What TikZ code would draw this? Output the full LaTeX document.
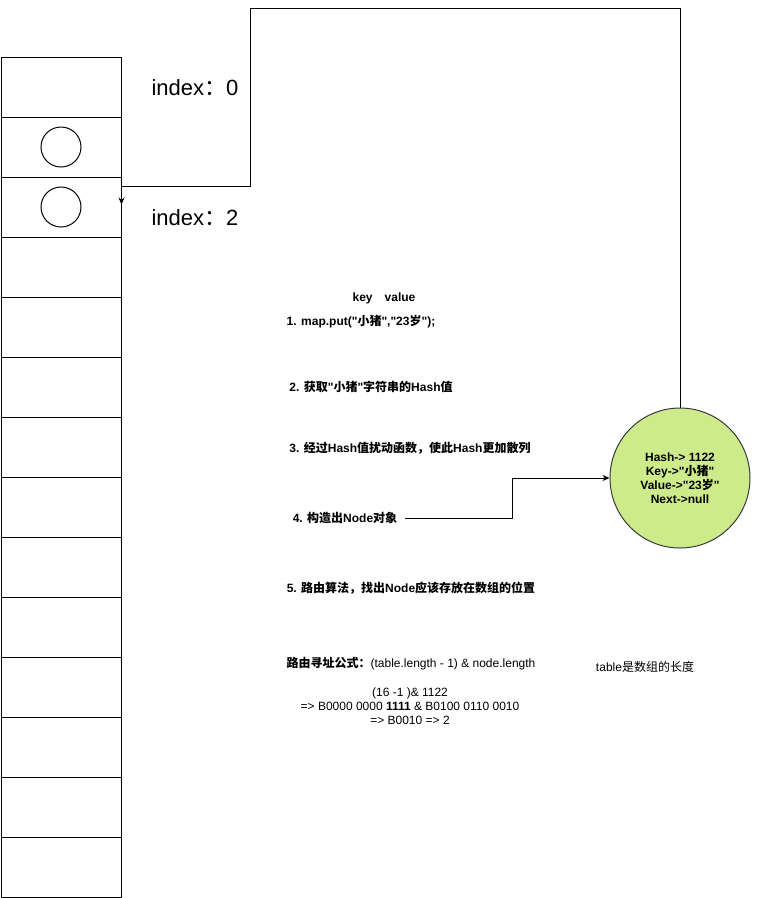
\documentclass[tikz,border=0pt]{standalone}
\usepackage{fontspec}
\setmainfont{Liberation Sans}[Ligatures=TeXOff]
\newfontfamily\cjk{Noto Sans CJK SC}
\usetikzlibrary{arrows.meta}
\definecolor{nodegreen}{HTML}{CDEB8B}
\definecolor{nodeline}{HTML}{36393D}

\begin{document}
\begin{tikzpicture}[x=1pt, y=-1pt, >={Stealth[length=7pt,width=6pt]}, line width=1pt,
  cell/.style={draw, minimum width=120pt, minimum height=60pt, inner sep=0pt},
  slot/.style={draw, circle, minimum size=40pt, inner sep=0pt},
  stepnote/.style={font=\fontsize{12}{14}\selectfont\bfseries, align=center, inner sep=1pt},
  plainnote/.style={font=\fontsize{12}{14}\selectfont, align=center, inner sep=1pt},
  idx/.style={font=\fontsize{22}{26}\selectfont, inner sep=0pt}]
\useasboundingbox (0,0) rectangle (760,898);
% the table
\foreach \i in {1,...,14}
  \node[cell] (c\i) at (61,{27+60*\i}) {};
\node[slot] (o2) at (c2) {};
\node[slot] (o3) at (c3) {};
\node[idx] (i0) at (195,88) {index{\cjk ：}0};
\node[idx] (i2) at (195,218) {index{\cjk ：}2};
% hash node
\node[circle, draw=nodeline, fill=nodegreen, minimum size=140pt, inner sep=0pt,
  stepnote] (hn) at (680,478) {Hash-> 1122\\Key->"{\cjk 小猪}"\\Value->"23{\cjk 岁}"\\Next->null};
% steps
\node[stepnote] (kv) at (384,298) {key\quad value};
\node[stepnote] (s1) at (361,322) {1. map.put("{\cjk 小猪}","23{\cjk 岁}");};
\node[stepnote] (s2) at (371,387) {2. {\cjk 获取}"{\cjk 小猪}"{\cjk 字符串的}Hash{\cjk 值}};
\node[stepnote] (s3) at (410,448) {3. {\cjk 经过}Hash{\cjk 值扰动函数，使此}Hash{\cjk 更加散列}};
\node[stepnote] (s4) at (345,518) {4. {\cjk 构造出}Node{\cjk 对象}};
\node[stepnote] (s5) at (411,588) {5. {\cjk 路由算法，找出}Node{\cjk 应该存放在数组的位置}};
\node[plainnote] (fm) at (411,664) {{\bfseries\cjk 路由寻址公式：}(table.length - 1) \& node.length};
\node[plainnote] (ex) at (410,706) {(16 -1 )\& 1122\\=> B0000 0000 \textbf{1111} \& B0100 0110 0010\\=> B0010 => 2};
\node[plainnote] (tl) at (645,667) {table{\cjk 是数组的长度}};
% connectors
\draw[->] ([xshift=6pt]s4.east) -- (512,518) |- (hn.west);
\draw[->] (hn.north) |- (250,8) |- ([yshift=-10pt]c3.north east) -- ([yshift=-28pt]c3.north east);
\end{tikzpicture}
\end{document}
